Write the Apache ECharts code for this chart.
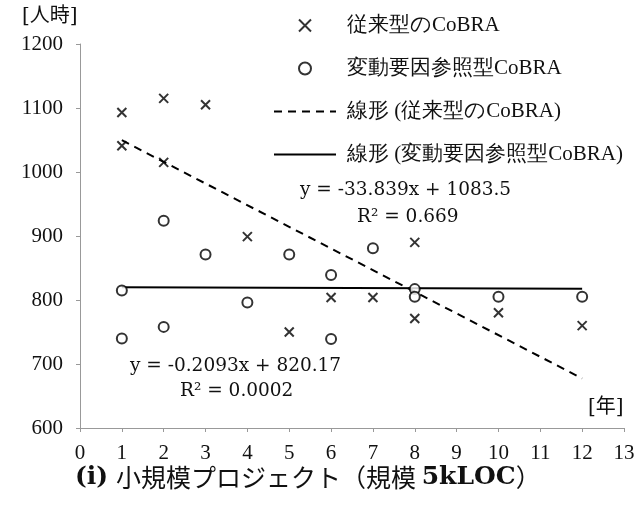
<!DOCTYPE html>
<html><head><meta charset="utf-8">
<script src="https://cdn.jsdelivr.net/npm/echarts@6/dist/echarts.min.js"></script>
<style>html,body{margin:0;padding:0;background:#fff}#c{width:641px;height:506px}</style>
</head><body><div id="c"></div>
<script>
const FONT = "'DejaVu Serif', 'Noto Sans CJK JP', serif";
const seriesNames = ['従来型のCoBRA', '変動要因参照型CoBRA', '線形 (従来型のCoBRA)', '線形 (変動要因参照型CoBRA)'];
const convX = [1, 1, 2, 2, 3, 4, 5, 6, 7, 8, 8, 10, 12];
const convY = [1093, 1041, 1115, 1015, 1105, 899, 750, 804, 804, 890, 771, 780, 760];
const varX = [1, 1, 2, 2, 3, 4, 5, 6, 6, 7, 8, 8, 10, 12];
const varY = [815, 740, 924, 758, 871, 796, 871, 839, 739, 881, 817, 805, 805, 805];
const convFit = [-33.839, 1083.5];
const varFit = [-0.2093, 820.17];
const fitRange = [1, 12];
const xTicks = [0,1,2,3,4,5,6,7,8,9,10,11,12,13];
const yTicks = [600,700,800,900,1000,1100,1200];

const fitLine = (c) => fitRange.map(x => [x, c[0] * x + c[1]]);
const CROSS = 'path://M0,0L10,10M10,0L0,10';
const hideDot = { color: 'rgba(0,0,0,0)', borderColor: 'rgba(0,0,0,0)', borderWidth: 0, opacity: 0 };

const chart = echarts.init(document.getElementById('c'));
chart.setOption({
  animation: false,
  backgroundColor: '#fff',
  grid: { left: 80, right: 17, top: 44, bottom: 78 },
  xAxis: {
    type: 'value', min: xTicks[0], max: xTicks[xTicks.length - 1], interval: 1,
    axisLine: { lineStyle: { color: '#999', width: 1 } },
    axisTick: { show: true, length: 4, inside: false, lineStyle: { color: '#999' } },
    splitLine: { show: false },
    axisLabel: { color: '#111', fontFamily: 'serif', fontSize: 21, margin: 15, formatter: v => String(v) }
  },
  yAxis: {
    type: 'value', min: yTicks[0], max: yTicks[yTicks.length - 1], interval: 100,
    axisLine: { show: true, lineStyle: { color: '#999', width: 1 } },
    axisTick: { show: true, length: 4, lineStyle: { color: '#999' } },
    splitLine: { show: false },
    axisLabel: { color: '#111', fontFamily: 'serif', fontSize: 21, margin: 17, formatter: v => String(v) }
  },
  legend: {
    orient: 'vertical', left: 268, top: 10,
    itemWidth: 62, itemHeight: 12, itemGap: 22,
    textStyle: { fontFamily: 'serif', fontSize: 21, color: '#111', padding: [0, 0, 0, 6] },
    data: [
      { name: seriesNames[0] },
      { name: seriesNames[1] },
      { name: seriesNames[2], itemStyle: hideDot },
      { name: seriesNames[3], itemStyle: hideDot }
    ]
  },
  series: [
    { name: seriesNames[0], type: 'scatter', data: convX.map((x, i) => [x, convY[i]]),
      symbol: CROSS, symbolSize: 9,
      itemStyle: { color: 'transparent', borderColor: '#000', borderWidth: 2 } },
    { name: seriesNames[1], type: 'scatter', data: varX.map((x, i) => [x, varY[i]]),
      symbol: 'circle', symbolSize: 10,
      itemStyle: { color: '#fff', borderColor: '#000', borderWidth: 2 } },
    { name: seriesNames[2], type: 'line', data: fitLine(convFit), symbol: 'none', showSymbol: false,
      itemStyle: { color: '#000' },
      lineStyle: { color: '#000', width: 2, type: [8, 6] }, z: 1 },
    { name: seriesNames[3], type: 'line', data: fitLine(varFit), symbol: 'none', showSymbol: false,
      itemStyle: { color: '#000' },
      lineStyle: { color: '#000', width: 2, type: 'solid' }, z: 1 }
  ],
  graphic: [
    { type: 'text', left: 22, top: 7, style: { text: '[人時]', font: '20px ' + FONT, fill: '#111' } },
    { type: 'text', left: 588, top: 398, style: { text: '[年]', font: '20px ' + FONT, fill: '#111' } },
    { type: 'text', left: 300, top: 181, style: { text: 'y = -33.839x + 1083.5', font: '18.5px ' + FONT, fill: '#111' } },
    { type: 'text', left: 357, top: 208, style: { text: 'R² = 0.669', font: '18.5px ' + FONT, fill: '#111' } },
    { type: 'text', left: 130, top: 357, style: { text: 'y = -0.2093x + 820.17', font: '18.5px ' + FONT, fill: '#111' } },
    { type: 'text', left: 180, top: 382, style: { text: 'R² = 0.0002', font: '18.5px ' + FONT, fill: '#111' } },
    { type: 'text', left: 75, top: 465, style: {
      text: '{b|(i)} {n|小規模プロジェクト（規模 }{b|5kLOC}{n|）}',
      rich: {
        b: { fontFamily: FONT, fontWeight: 'bold', fontSize: 25, color: '#111' },
        n: { fontFamily: "'Noto Sans CJK JP', sans-serif", fontSize: 25, color: '#111' }
      }, font: '25px ' + FONT, fill: '#111' } }
  ]
});
</script></body></html>
